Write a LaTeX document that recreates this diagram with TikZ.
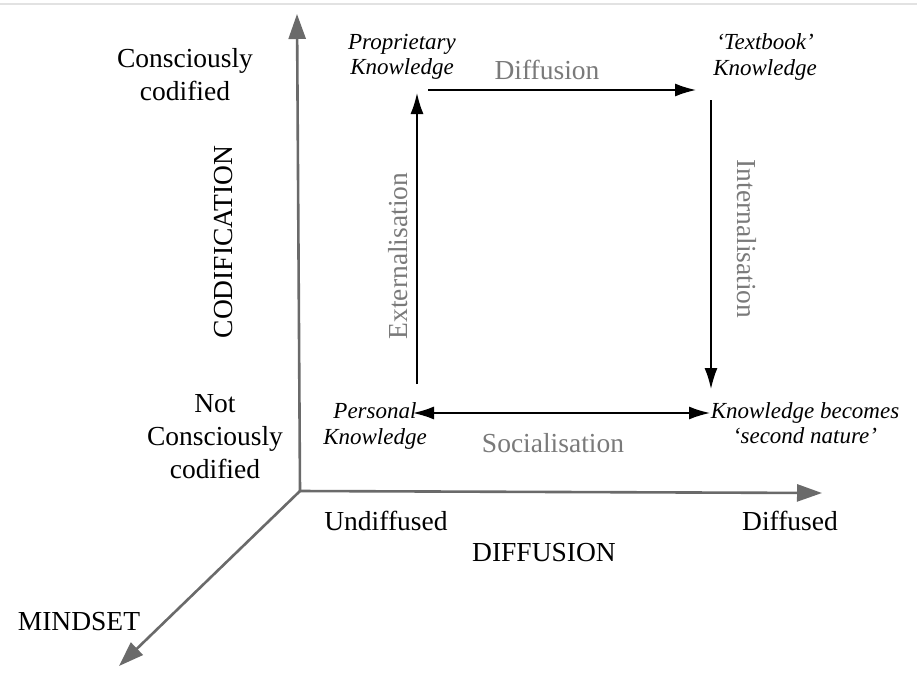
\documentclass[tikz,border=0pt]{standalone}
\usepackage{fontspec}
\setmainfont{Liberation Serif}
\usetikzlibrary{arrows.meta}
\definecolor{axisgray}{HTML}{6A6A6A}
\definecolor{labelgray}{HTML}{7A7A7A}
\definecolor{rulegray}{HTML}{E2E2E2}
\tikzset{
  axis/.style={draw=axisgray, line width=2.6pt,
    -{Triangle[length=25pt,width=17pt,fill=axisgray]}},
  flow/.style={draw=black, line width=1.5pt,
    -{Latex[length=21pt,width=13pt]}},
  flowboth/.style={draw=black, line width=1.5pt,
    {Latex[length=21pt,width=13pt]}-{Latex[length=21pt,width=13pt]}},
  axislabel/.style={font=\fontsize{27.5}{33}\selectfont, align=center, text=black},
  corner/.style={font=\fontsize{23}{25.5}\selectfont\itshape, align=center, text=black},
  process/.style={font=\fontsize{27.5}{30}\selectfont, text=labelgray},
}
\begin{document}
\begin{tikzpicture}[x=1pt,y=-1pt]
\useasboundingbox (0,0) rectangle (917,683);
\fill[white] (0,0) rectangle (917,683);
\draw[rulegray, line width=1.5pt] (0,4) -- (917,4);

% axes
\coordinate (O) at (300,491);
\coordinate (ytip) at (297,14);
\coordinate (xtip) at (822,493);
\coordinate (ztip) at (119,666);
\draw[axis] (O) -- (ytip);
\draw[axis] (O) -- (xtip);
\draw[axis] (O) -- (ztip);

% axis labels
\node[axislabel] (cc) at (185,75) {Consciously\\codified};
\node[axislabel] (ncc) at (215,437) {Not\\Consciously\\codified};
\node[axislabel, rotate=90] (cod) at (224,242) {CODIFICATION};
\node[axislabel] (und) at (386,521) {Undiffused};
\node[axislabel] (dif) at (790,521) {Diffused};
\node[axislabel] (diffusion) at (544,553) {DIFFUSION};
\node[axislabel] (mind) at (79,622) {MINDSET};

% knowledge states
\node[corner] (prop) at (402,57) {Proprietary\\Knowledge};
\node[corner] (text) at (765,57) {`Textbook'\\Knowledge};
\node[corner] (pers) at (375,426) {Personal\\Knowledge};
\node[corner] (nat) at (805,423) {Knowledge becomes\\`second nature'};

% transitions between states
\coordinate (d1) at (428,90);
\coordinate (d2) at (696,90);
\coordinate (i1) at (711,100);
\coordinate (i2) at (711,389);
\coordinate (e1) at (417,384);
\coordinate (e2) at (417,93);
\coordinate (s1) at (413,413);
\coordinate (s2) at (710,413);
\draw[flow] (d1) -- (d2);
\draw[flow] (i1) -- (i2);
\draw[flow] (e1) -- (e2);
\draw[flowboth] (s1) -- (s2);

\node[process] (lbdiff) at (547,70) {Diffusion};
\node[process, rotate=-90] (lbint) at (747,239) {Internalisation};
\node[process, rotate=90] (lbext) at (398,256) {Externalisation};
\node[process] (lbsoc) at (553,443) {Socialisation};
\end{tikzpicture}
\end{document}
